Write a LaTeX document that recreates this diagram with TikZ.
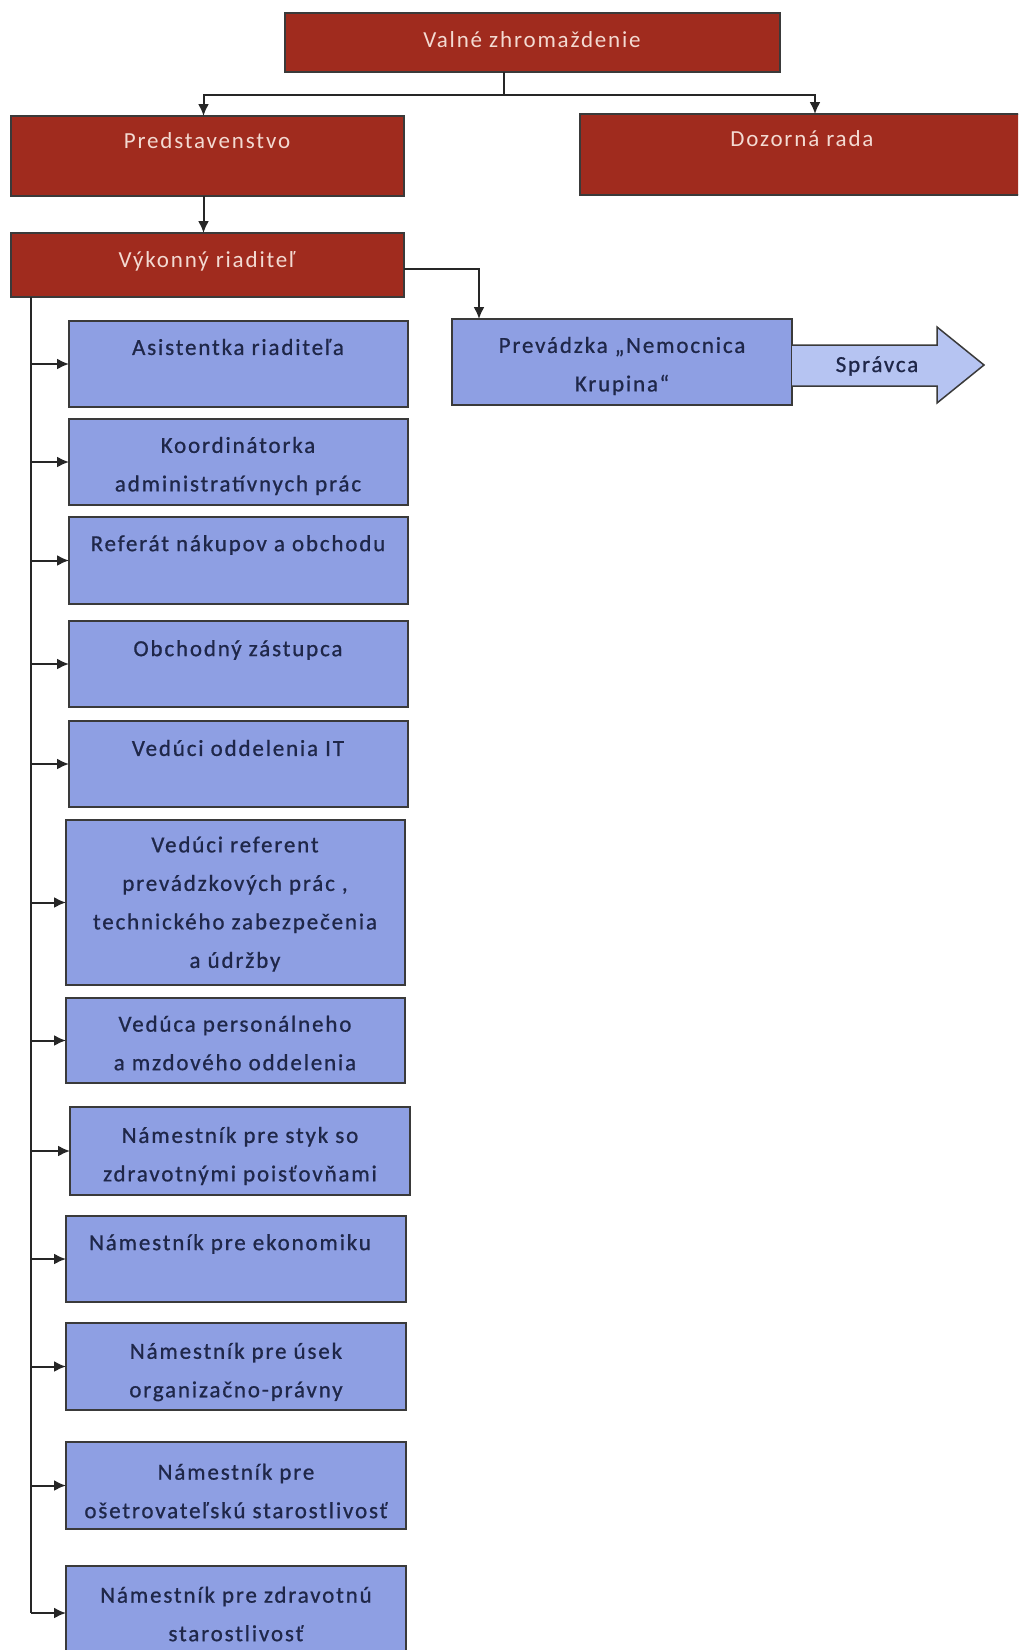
\documentclass[tikz,border=0pt]{standalone}
\usepackage{fontspec}
\setmainfont{Carlito}[LetterSpace=8]
\newfontfamily\bluefont{Carlito}[LetterSpace=8,FakeBold=0.8]
\usetikzlibrary{arrows.meta,calc}
\definecolor{redbox}{HTML}{A02B1E}
\definecolor{bluebox}{HTML}{8E9FE3}
\definecolor{arrowfill}{HTML}{B6C4F2}
\definecolor{redtxt}{HTML}{F3DAD2}
\definecolor{bluetxt}{HTML}{1F2749}
\definecolor{edge}{HTML}{3A3A3A}
\newcommand\orgbox[6]{\node[#1,minimum width={(#5)-(#3)},minimum height={(#6)-(#4)}] (#2) at ({((#3)+(#5))/2},{((#4)+(#6))/2}) {};}
\tikzset{
  base/.style={rectangle,draw=edge,line width=1.5pt,inner sep=0pt,outer sep=0pt},
  redb/.style={base,fill=redbox},
  blueb/.style={base,fill=bluebox},
  rtxt/.style={text=redtxt,align=center,font=\fontsize{23}{38.5}\selectfont,inner sep=0pt},
  btxt/.style={text=bluetxt,align=center,font=\bluefont\fontsize{23}{38.5}\selectfont,inner sep=0pt},
  line/.style={draw=black!85,line width=2pt},
  arr/.style={line,-{Latex[length=12pt,width=11pt]}}
}
\begin{document}
\begin{tikzpicture}[x=1pt,y=-1pt]
\useasboundingbox (0,0) rectangle (1018,1650);
\clip (0,0) rectangle (1018,1650);
\fill[white] (0,0) rectangle (1018,1650);
% red boxes
\orgbox{redb}{val}{285}{13}{780}{72}
\node[rtxt] (valt) at (532,40) {Valné zhromaždenie};
\orgbox{redb}{pred}{11}{116}{404}{196}
\node[rtxt] (predt) at (207,141) {Predstavenstvo};
\orgbox{redb}{doz}{580}{114}{1030}{195}
\node[rtxt] (dozt) at (802,139) {Dozorná rada};
\orgbox{redb}{vyk}{11}{233}{404}{297}
\node[rtxt] (vykt) at (207,261) {Výkonný riaditeľ};
% Prevadzka
\orgbox{blueb}{prev}{452}{319}{792}{405}
\node[btxt] (prevt) at (622,366) {Prevádzka „Nemocnica\\Krupina“};
\draw[draw=edge,line width=1.5pt,fill=arrowfill] (792,345) -- (937,345) -- (937,327) -- (984,365) -- (937,403) -- (937,386) -- (792,386);
\node[btxt] (spr) at (877,366) {Správca};
% blue boxes
\orgbox{blueb}{b1}{69}{321}{408}{407}
\node[btxt] (b1t) at (238,347) {Asistentka riaditeľa};
\orgbox{blueb}{b2}{69}{419}{408}{505}
\node[btxt] (b2t) at (238,466) {Koordinátorka\\administratívnych prác};
\orgbox{blueb}{b3}{69}{517}{408}{604}
\node[btxt] (b3t) at (238,545) {Referát nákupov a obchodu};
\orgbox{blueb}{b4}{69}{621}{408}{707}
\node[btxt] (b4t) at (238,650) {Obchodný zástupca};
\orgbox{blueb}{b5}{69}{721}{408}{807}
\node[btxt] (b5t) at (238,748) {Vedúci oddelenia IT};
\orgbox{blueb}{b6}{66}{820}{405}{985}
\node[btxt] (b6t) at (235,904) {Vedúci referent\\prevádzkových prác ,\\technického zabezpečenia\\a údržby};
\orgbox{blueb}{b7}{66}{998}{405}{1083}
\node[btxt] (b7t) at (235,1043) {Vedúca personálneho\\a mzdového oddelenia};
\orgbox{blueb}{b8}{70}{1107}{410}{1195}
\node[btxt] (b8t) at (240,1156) {Námestník pre styk so\\zdravotnými poisťovňami};
\orgbox{blueb}{b9}{66}{1216}{406}{1302}
\node[btxt] (b9t) at (230,1244) {Námestník pre ekonomiku};
\orgbox{blueb}{b10}{66}{1323}{406}{1410}
\node[btxt] (b10t) at (236,1372) {Námestník pre úsek\\organizačno-právny};
\orgbox{blueb}{b11}{66}{1442}{406}{1529}
\node[btxt] (b11t) at (236,1491) {Námestník pre\\ošetrovateľskú starostlivosť};
\orgbox{blueb}{b12}{66}{1566}{406}{1660}
\node[btxt] (b12t) at (236,1614) {Námestník pre zdravotnú\\starostlivosť};
% connectors
\coordinate (j) at (504,95);
\draw[line] (val.south -| j) -- (j);
\draw[arr] (j) -| ([xshift=-4]pred.north);
\draw[arr] (j) -| ([xshift=10]doz.north);
\draw[arr] ([xshift=-4]pred.south) -- ([xshift=-4]vyk.north);
\draw[arr] ([yshift=-4]vyk.east) -| ([xshift=27]prev.north west);
\coordinate (sp) at ([xshift=20]vyk.south west);
\draw[line] (sp) -- (sp |- b12.west);
\foreach \b in {b1,b2,b3,b4,b5,b6,b7,b8,b9,b10,b11,b12}{
  \draw[arr] (sp |- \b.west) -- (\b.west);
}
\end{tikzpicture}
\end{document}
